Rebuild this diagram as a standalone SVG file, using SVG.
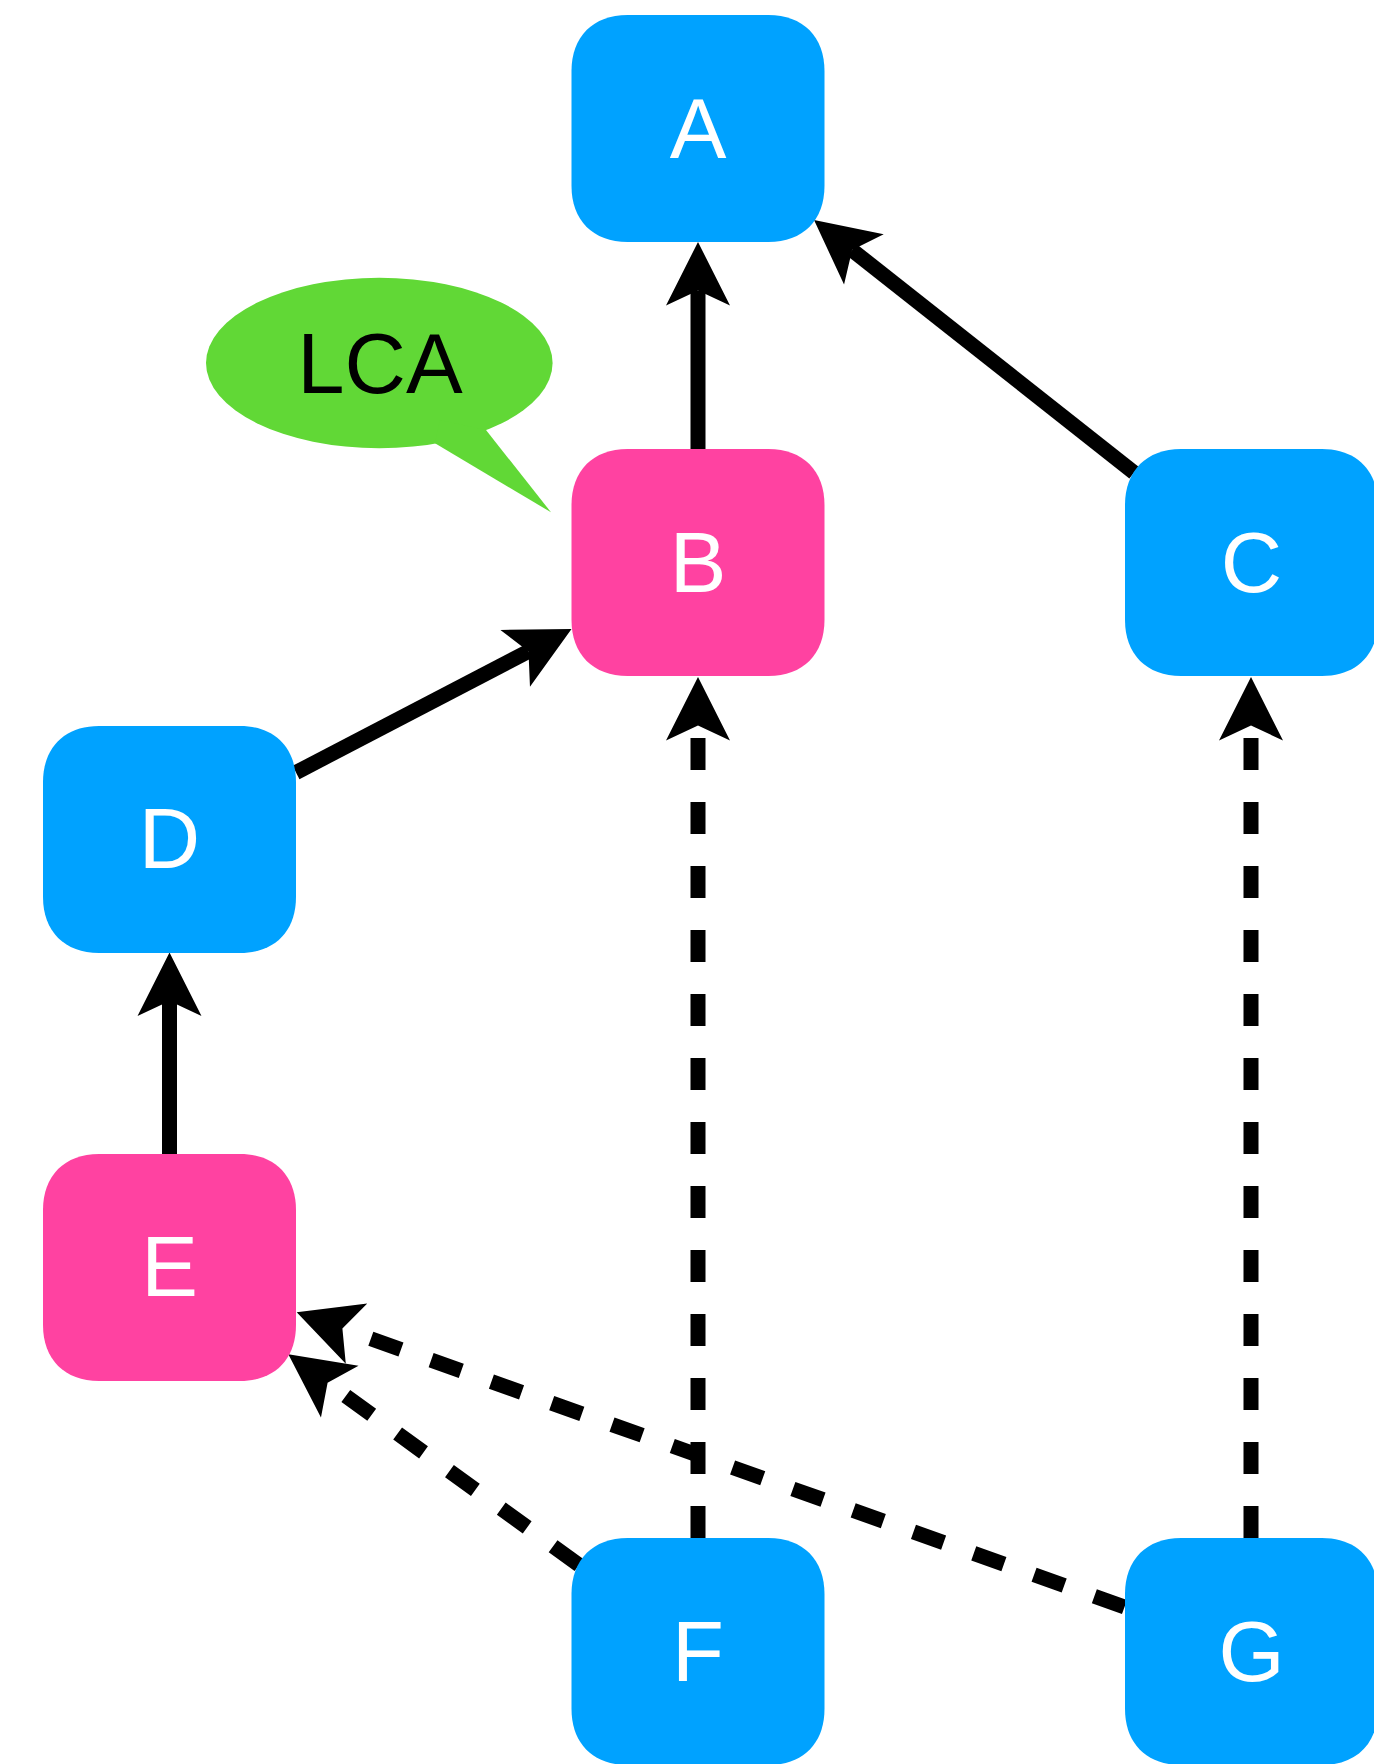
<svg xmlns="http://www.w3.org/2000/svg" xmlns:xlink="http://www.w3.org/1999/xlink" width="1374" height="1764" viewBox="0 0 1374 1764">
  <style>
    .blue { fill: #00A2FF; }
    .pink { fill: #FF42A1; }
    .lbl { font-family: "Liberation Sans", Arial, Helvetica, sans-serif; font-size: 85px; fill: #FFFFFF; text-anchor: middle; }
    .call { font-family: "Liberation Sans", Arial, Helvetica, sans-serif; font-size: 85px; fill: #000000; text-anchor: middle; }
    .edge { fill: none; stroke: #000000; stroke-width: 15; stroke-linecap: butt; marker-end: url(#ah); }
    .dash { stroke-dasharray: 32 32; }
  </style>
  <defs>
    <path id="box" d="M56,0 H197 C231.4,0 253,21.6 253,56 V171 C253,205.4 231.4,227 197,227 H56 C21.6,227 0,205.4 0,171 V56 C0,21.6 21.6,0 56,0 Z"/>
    <marker id="ah" markerUnits="userSpaceOnUse" orient="auto" viewBox="-20 -40 80 80" markerWidth="80" markerHeight="80" refX="0" refY="0" overflow="visible">
      <path d="M48.5,0 L-15,-32 L0,0 L-15,32 Z" fill="#000000"/>
    </marker>
  </defs>
  <rect width="1374" height="1764" fill="#FFFFFF"/>

  <g id="connectors">
    <path class="edge" d="M698,456 L698,290.5"/>
    <path class="edge" d="M1134,472.6 L852.1,250.1"/>
    <path class="edge" d="M296,772.5 L528.5,651.4"/>
    <path class="edge" d="M169.5,1158 L169.5,1001"/>
    <path class="edge dash" d="M698,1538 L698,725.5"/>
    <path class="edge dash" d="M1251,1538 L1251,725.5"/>
    <path class="edge dash" d="M579,1565 L327.6,1382.8"/>
    <path class="edge dash" d="M1124.5,1607 L342.4,1328.6"/>
  </g>

  <g id="callout-LCA">
    <ellipse cx="379.3" cy="363" rx="173.3" ry="85.2" fill="#61D836"/>
    <polygon points="486,430 551,512.3 435,443.3 440,420" fill="#61D836"/>
    <text class="call" x="380" y="393">LCA</text>
  </g>

  <g id="node-A">
    <use xlink:href="#box" href="#box" class="blue" x="571.5" y="15"/>
    <text class="lbl" x="698" y="157.5">A</text>
  </g>
  <g id="node-B">
    <use xlink:href="#box" href="#box" class="pink" x="571.5" y="449"/>
    <text class="lbl" x="698" y="591.5">B</text>
  </g>
  <g id="node-C">
    <use xlink:href="#box" href="#box" class="blue" x="1125" y="449"/>
    <text class="lbl" x="1251.5" y="591.5">C</text>
  </g>
  <g id="node-D">
    <use xlink:href="#box" href="#box" class="blue" x="43" y="726"/>
    <text class="lbl" x="169.5" y="868">D</text>
  </g>
  <g id="node-E">
    <use xlink:href="#box" href="#box" class="pink" x="43" y="1154"/>
    <text class="lbl" x="169.5" y="1296">E</text>
  </g>
  <g id="node-F">
    <use xlink:href="#box" href="#box" class="blue" x="571.5" y="1538"/>
    <text class="lbl" x="698" y="1680.5">F</text>
  </g>
  <g id="node-G">
    <use xlink:href="#box" href="#box" class="blue" x="1125" y="1538"/>
    <text class="lbl" x="1251.5" y="1680.5">G</text>
  </g>
</svg>
